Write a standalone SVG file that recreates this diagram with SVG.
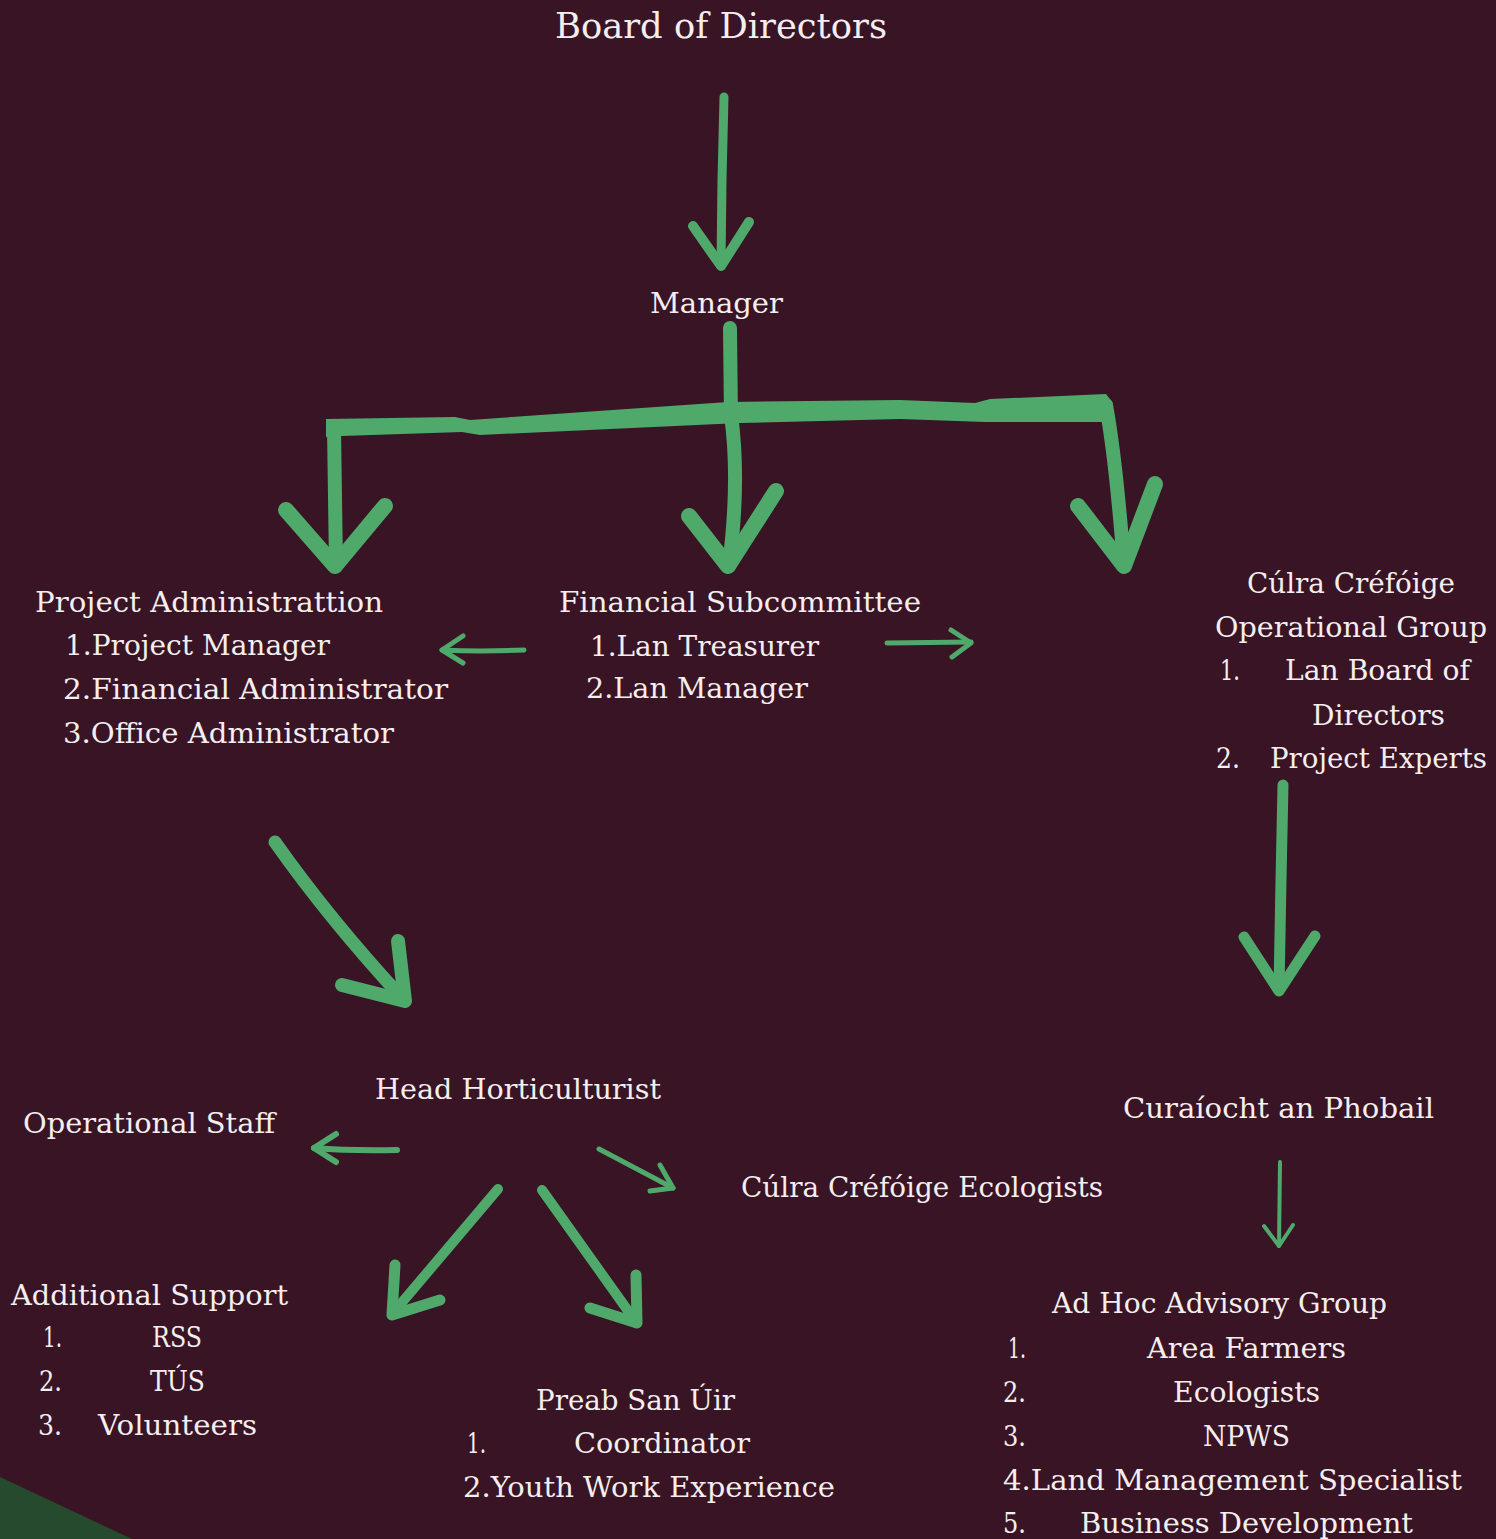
<svg xmlns="http://www.w3.org/2000/svg" width="1496" height="1539" viewBox="0 0 1496 1539">
<style>
text{font-family:"DejaVu Serif","Liberation Serif",serif;fill:#f4eeee;font-size:27px}
.t{font-size:36px}
.c{fill:none;stroke:#4ea96b;stroke-linecap:round;stroke-linejoin:round}
.w4{stroke-width:4}.w5{stroke-width:5}.w6{stroke-width:6}.w9{stroke-width:9}.w10{stroke-width:10}.w11{stroke-width:11}.w13{stroke-width:13}.w14{stroke-width:14}.w16{stroke-width:16}
</style>
<rect width="1496" height="1539" fill="#391425"/>
<polygon points="0,1477 132,1539 0,1539" fill="#264a2d"/>
<g id="connectors">
<path class="c w9" d="M724,97 L722,180 L721,265"/>
<polyline class="c w10" points="693,226 721,266 749,222"/>
<path class="c w14" d="M730,328 L731,420"/>
<polygon fill="#4ea96b" points="326,419 455,417 470,420 728,402 900,400 975,403 990,399 1106,394 1113,403 1106,422 985,422 900,419 740,423 480,435 462,432 342,436 326,437"/>
<path class="c w14" d="M334,428 L336,566"/>
<polyline class="c w16" points="286,510 335,566 385,506"/>
<path class="c w14" d="M731,415 Q740,480 729,566"/>
<polyline class="c w16" points="689,516 728,566 776,491"/>
<path class="c w14" d="M1106,405 Q1116,460 1124,566"/>
<polyline class="c w16" points="1078,506 1124,566 1155,484"/>
<path class="c w5" d="M524,650 Q480,652 442,650"/>
<polyline class="c w5" points="463,636 442,650 463,663"/>
<path class="c w5" d="M887,643 L971,642"/>
<polyline class="c w5" points="951,630 971,643 952,657"/>
<path class="c w11" d="M1283,785 L1281,880 L1279,990"/>
<polyline class="c w11" points="1244,937 1279,991 1315,936"/>
<path class="c w13" d="M275,842 Q330,920 404,1000"/>
<polyline class="c w14" points="342,985 405,1001 398,941"/>
<path class="c w6" d="M397,1150 Q350,1151 314,1148"/>
<polyline class="c w6" points="336,1134 314,1148 336,1162"/>
<path class="c w5" d="M599,1149 L673,1188"/>
<polyline class="c w5" points="660,1165 673,1188 650,1191"/>
<path class="c w10" d="M498,1189 L393,1313"/>
<polyline class="c w11" points="395,1265 392,1315 440,1300"/>
<path class="c w10" d="M542,1190 L636,1322"/>
<polyline class="c w11" points="636,1275 637,1323 590,1308"/>
<path class="c w4" d="M1280,1162 L1279,1246"/>
<polyline class="c w4" points="1264,1226 1279,1246 1293,1225"/>
</g>
<g id="board"><text class="t" x="555" y="38" textLength="332" lengthAdjust="spacingAndGlyphs">Board of Directors</text></g>
<g id="manager"><text x="650" y="313" textLength="133" lengthAdjust="spacingAndGlyphs">Manager</text></g>
<g id="project-admin">
<text x="35" y="612" textLength="348" lengthAdjust="spacingAndGlyphs">Project Administrattion</text>
<text x="65" y="655" textLength="265" lengthAdjust="spacingAndGlyphs">1.Project Manager</text>
<text x="63" y="699" textLength="385" lengthAdjust="spacingAndGlyphs">2.Financial Administrator</text>
<text x="63" y="743" textLength="331" lengthAdjust="spacingAndGlyphs">3.Office Administrator</text>
</g>
<g id="financial">
<text x="559" y="612" textLength="362" lengthAdjust="spacingAndGlyphs">Financial Subcommittee</text>
<text x="590" y="656" textLength="229" lengthAdjust="spacingAndGlyphs">1.Lan Treasurer</text>
<text x="586" y="698" textLength="222" lengthAdjust="spacingAndGlyphs">2.Lan Manager</text>
</g>
<g id="culra-op">
<text x="1247" y="593" textLength="208" lengthAdjust="spacingAndGlyphs">Cúlra Créfóige</text>
<text x="1215" y="637" textLength="272" lengthAdjust="spacingAndGlyphs">Operational Group</text>
<text x="1220" y="680" textLength="20" lengthAdjust="spacingAndGlyphs">1.</text>
<text x="1285" y="680" textLength="185" lengthAdjust="spacingAndGlyphs">Lan Board of</text>
<text x="1312" y="725" textLength="133" lengthAdjust="spacingAndGlyphs">Directors</text>
<text x="1216" y="768" textLength="24" lengthAdjust="spacingAndGlyphs">2.</text>
<text x="1270" y="768" textLength="217" lengthAdjust="spacingAndGlyphs">Project Experts</text>
</g>
<g id="head-hort"><text x="375" y="1099" textLength="286" lengthAdjust="spacingAndGlyphs">Head Horticulturist</text></g>
<g id="op-staff"><text x="23" y="1133" textLength="252" lengthAdjust="spacingAndGlyphs">Operational Staff</text></g>
<g id="ecologists"><text x="741" y="1197" textLength="362" lengthAdjust="spacingAndGlyphs">Cúlra Créfóige Ecologists</text></g>
<g id="curaiocht"><text x="1123" y="1118" textLength="311" lengthAdjust="spacingAndGlyphs">Curaíocht an Phobail</text></g>
<g id="additional">
<text x="11" y="1305" textLength="277" lengthAdjust="spacingAndGlyphs">Additional Support</text>
<text x="43" y="1347" textLength="19" lengthAdjust="spacingAndGlyphs">1.</text>
<text x="152" y="1347" textLength="50" lengthAdjust="spacingAndGlyphs">RSS</text>
<text x="39" y="1391" textLength="23" lengthAdjust="spacingAndGlyphs">2.</text>
<text x="150" y="1391" textLength="55" lengthAdjust="spacingAndGlyphs">TÚS</text>
<text x="38" y="1435" textLength="24" lengthAdjust="spacingAndGlyphs">3.</text>
<text x="98" y="1435" textLength="159" lengthAdjust="spacingAndGlyphs">Volunteers</text>
</g>
<g id="preab">
<text x="536" y="1410" textLength="199" lengthAdjust="spacingAndGlyphs">Preab San Úir</text>
<text x="467" y="1453" textLength="19" lengthAdjust="spacingAndGlyphs">1.</text>
<text x="574" y="1453" textLength="176" lengthAdjust="spacingAndGlyphs">Coordinator</text>
<text x="463" y="1497" textLength="372" lengthAdjust="spacingAndGlyphs">2.Youth Work Experience</text>
</g>
<g id="adhoc">
<text x="1052" y="1313" textLength="335" lengthAdjust="spacingAndGlyphs">Ad Hoc Advisory Group</text>
<text x="1008" y="1358" textLength="18" lengthAdjust="spacingAndGlyphs">1.</text>
<text x="1147" y="1358" textLength="199" lengthAdjust="spacingAndGlyphs">Area Farmers</text>
<text x="1003" y="1402" textLength="23" lengthAdjust="spacingAndGlyphs">2.</text>
<text x="1173" y="1402" textLength="147" lengthAdjust="spacingAndGlyphs">Ecologists</text>
<text x="1003" y="1446" textLength="23" lengthAdjust="spacingAndGlyphs">3.</text>
<text x="1203" y="1446" textLength="87" lengthAdjust="spacingAndGlyphs">NPWS</text>
<text x="1003" y="1490" textLength="459" lengthAdjust="spacingAndGlyphs">4.Land Management Specialist</text>
<text x="1003" y="1533" textLength="23" lengthAdjust="spacingAndGlyphs">5.</text>
<text x="1080" y="1533" textLength="333" lengthAdjust="spacingAndGlyphs">Business Development</text>
</g>
</svg>
